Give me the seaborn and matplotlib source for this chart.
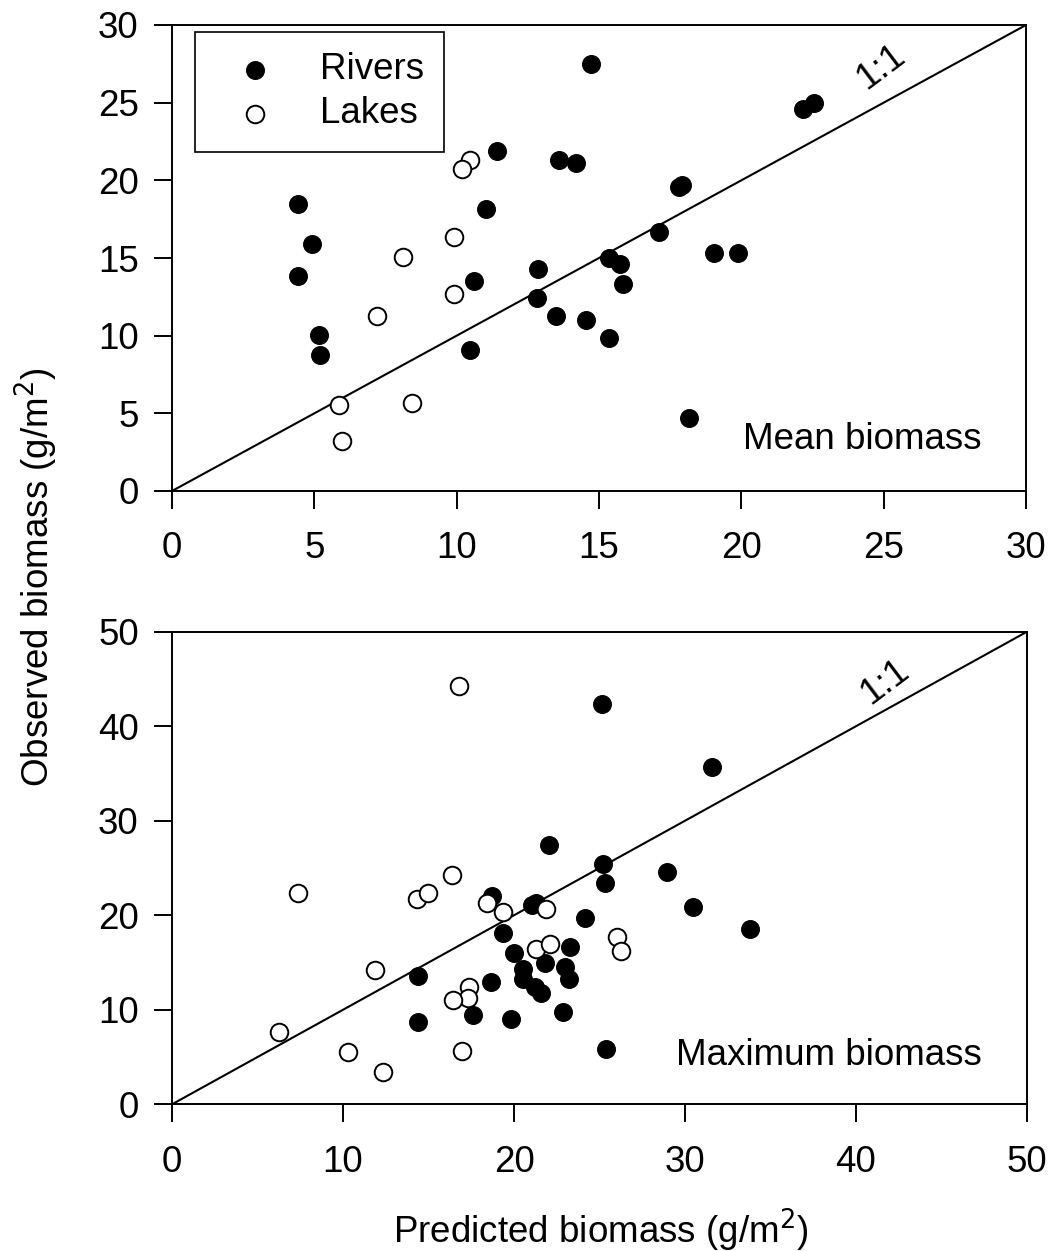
import matplotlib
matplotlib.use("Agg")
import matplotlib.pyplot as plt
import seaborn as sns
import pandas as pd

# ---- Data: top panel (mean biomass) ----
mean_river_pred = [4.44, 4.91, 4.44, 5.18, 5.20, 10.46, 10.62, 11.04, 11.40, 12.87, 12.83, 13.48,
                   13.59, 14.18, 14.53, 14.71, 15.36, 15.74, 15.84, 15.36, 17.12, 17.80, 17.90,
                   19.05, 19.87, 18.17, 22.15, 22.55]
mean_river_obs = [18.5, 15.9, 13.87, 10.04, 8.76, 9.08, 13.54, 18.14, 21.9, 14.27, 12.4, 11.27,
                  21.3, 21.1, 11.0, 27.47, 14.98, 14.6, 13.33, 9.83, 16.7, 19.6, 19.7,
                  15.3, 15.3, 4.68, 24.58, 24.96]
mean_lake_pred = [10.47, 10.20, 9.90, 9.90, 8.13, 7.21, 5.88, 8.42, 5.97]
mean_lake_obs = [21.3, 20.7, 16.38, 12.68, 15.05, 11.27, 5.54, 5.65, 3.22]

# ---- Data: bottom panel (maximum biomass) ----
max_river_pred = [25.13, 22.06, 25.18, 25.30, 18.70, 21.03, 21.30, 24.15, 19.38, 20.00, 21.80,
                  23.30, 20.50, 20.50, 22.98, 23.20, 21.20, 21.60, 14.40, 18.65, 17.60, 19.82,
                  22.88, 14.40, 25.40, 31.56, 28.97, 30.45, 33.80]
max_river_obs = [42.4, 27.4, 25.4, 23.45, 22.0, 21.1, 21.3, 19.7, 18.1, 16.0, 14.9,
                 16.6, 14.3, 13.3, 14.56, 13.3, 12.44, 11.8, 13.6, 12.9, 9.4, 9.03,
                 9.8, 8.74, 5.9, 35.7, 24.6, 20.85, 18.5]
max_lake_pred = [16.80, 7.39, 14.31, 14.95, 16.40, 18.40, 19.38, 21.87, 21.27, 22.10, 11.87,
                 17.37, 17.33, 16.45, 6.28, 10.31, 16.98, 12.36, 26.00, 26.26]
max_lake_obs = [44.3, 22.4, 21.7, 22.4, 24.3, 21.3, 20.3, 20.7, 16.4, 16.96, 14.2,
                12.44, 11.2, 11.03, 7.68, 5.5, 5.64, 3.45, 17.7, 16.25]

top_ticks = [0, 5, 10, 15, 20, 25, 30]
bot_ticks = [0, 10, 20, 30, 40, 50]

sns.set_theme(style="ticks")
plt.rcParams['font.family'] = ['Liberation Sans', 'DejaVu Sans']
plt.rcParams.update({
    'axes.linewidth': 1.4,
    'xtick.major.width': 1.4,
    'ytick.major.width': 1.4,
    'xtick.major.size': 13,
    'ytick.major.size': 13,
    'xtick.direction': 'out',
    'ytick.direction': 'out',
    'xtick.color': 'black',
    'ytick.color': 'black',
    'xtick.labelcolor': 'black',
    'ytick.labelcolor': 'black',
    'axes.edgecolor': 'black',
    'text.color': 'black',
    'axes.labelcolor': 'black',
})

fig = plt.figure(figsize=(10.54, 12.51), dpi=100)
ax1 = fig.add_axes([172/1054, 1-491/1251, 854/1054, 466/1251])
ax2 = fig.add_axes([172/1054, 1-1104.3/1251, 855/1054, 472.6/1251])

FS = 26.5
MS = 160

def panel(ax, rp, ro, lp, lo, lim, ticks, label, label_xy, one_xy, legend):
    df_r = pd.DataFrame({"pred": rp, "obs": ro})
    df_l = pd.DataFrame({"pred": lp, "obs": lo})
    sns.lineplot(x=[0, lim], y=[0, lim], ax=ax, color="black", linewidth=1.5, zorder=1)
    sns.scatterplot(data=df_r, x="pred", y="obs", ax=ax, color="black", edgecolor="black",
                    s=MS, linewidth=1.0, zorder=3, label="Rivers")
    sns.scatterplot(data=df_l, x="pred", y="obs", ax=ax, color="white", edgecolor="black",
                    s=MS, linewidth=1.4, zorder=3, label="Lakes")
    ax.set_xlim(0, lim)
    ax.set_ylim(0, lim)
    ax.set_xticks(ticks)
    ax.set_yticks(ticks)
    ax.tick_params(axis="x", labelsize=FS, pad=16)
    ax.tick_params(axis="y", labelsize=FS, pad=11)
    ax.set_xlabel("")
    ax.set_ylabel("")
    for s in ax.spines.values():
        s.set_visible(True)
        s.set_color("black")
    ax.text(label_xy[0], label_xy[1], label, ha="right", va="baseline", fontsize=FS)
    ax.text(one_xy[0], one_xy[1], "1:1", ha="center", va="center", fontsize=FS, rotation=37)
    if legend:
        leg = ax.legend(loc="upper left", bbox_to_anchor=(0.0265, 0.985), fontsize=FS,
                        frameon=True, fancybox=False, edgecolor="black", framealpha=1,
                        handletextpad=0.65, borderpad=0.55, labelspacing=0.25,
                        handlelength=2.2, borderaxespad=0)
        leg.get_frame().set_linewidth(1.2)
    else:
        lg = ax.get_legend()
        if lg is not None:
            lg.remove()

panel(ax1, mean_river_pred, mean_river_obs, mean_lake_pred, mean_lake_obs, 30, top_ticks,
      "Mean biomass", (28.45, 2.7), (24.9, 27.3), True)
panel(ax2, max_river_pred, max_river_obs, max_lake_pred, max_lake_obs, 50, bot_ticks,
      "Maximum biomass", (47.35, 4.16), (41.7, 44.7), False)

fig.text(36/1054, 1-577/1251, "Observed biomass (g/m$^2$)", rotation=90, ha="center",
         va="center", fontsize=FS)
fig.text(601/1054, 1-1230/1251, "Predicted biomass (g/m$^2$)", ha="center", va="center",
         fontsize=FS)

fig.savefig("out.png", dpi=100)
